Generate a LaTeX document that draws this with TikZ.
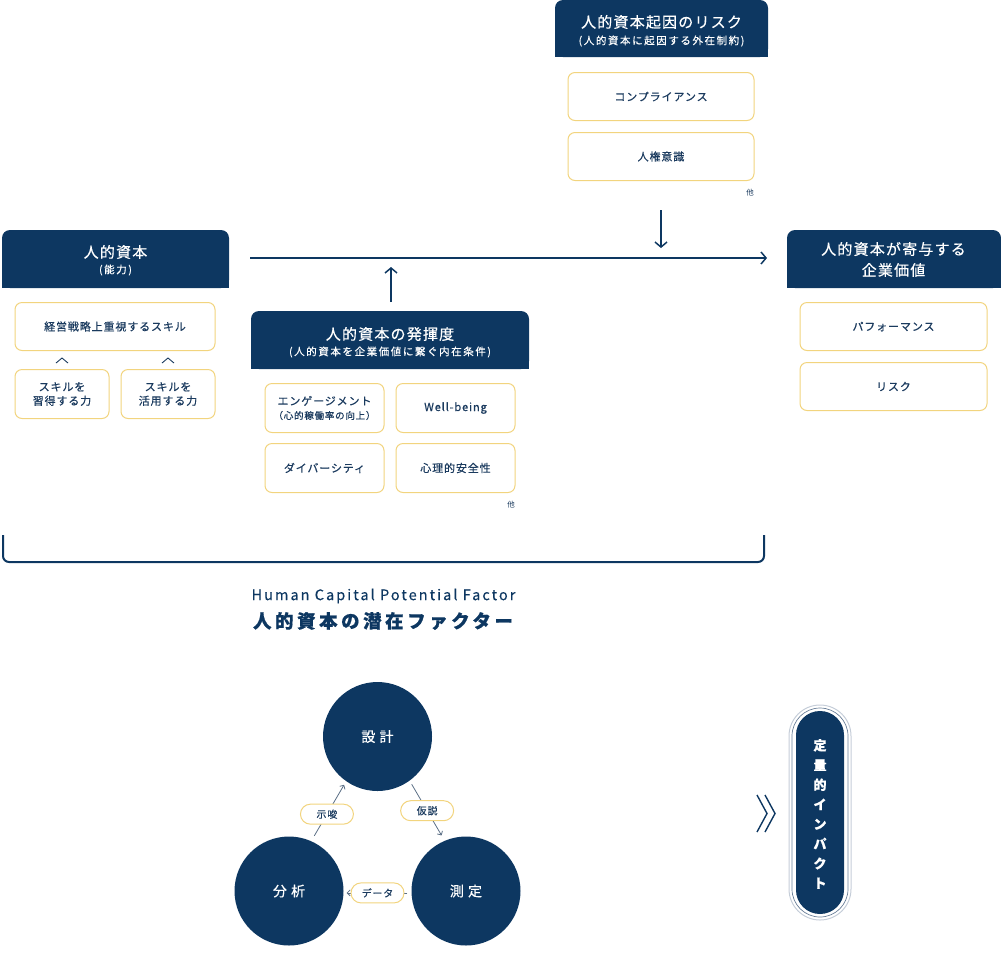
\documentclass[tikz,border=0pt]{standalone}
\usepackage{fontspec}
\setmainfont{Noto Sans CJK JP}
\newfontfamily\jpA[LetterSpace=8,FakeBold=0.45]{Noto Sans CJK JP}
\newfontfamily\jpB[LetterSpace=15,FakeBold=0.3]{Noto Sans CJK JP}
\newfontfamily\jpC[LetterSpace=30,FakeBold=0.45]{Noto Sans CJK JP}
\newfontfamily\jpD[LetterSpace=14,FakeBold=0.3]{Noto Sans CJK JP}
\newfontfamily\jpE[LetterSpace=19,FakeBold=0.6]{Noto Sans CJK JP}
\newfontfamily\jpF[FakeBold=0.6]{Noto Sans CJK JP}
\usetikzlibrary{arrows.meta}
\definecolor{navy}{HTML}{0D3761}
\definecolor{ybd}{HTML}{F2D47E}
\definecolor{txt}{HTML}{1A3A5E}
\definecolor{conng}{HTML}{5A6E85}
\definecolor{ring}{HTML}{C5CDD8}
\definecolor{ringb}{HTML}{6A7F98}
\begin{document}
\begin{tikzpicture}[x=1pt,y=-1pt,
  ybox/.style={draw=ybd, line width=1pt, fill=white, rounded corners=7pt, text=txt,
    font=\jpA\fontsize{11}{14}\selectfont, inner sep=0pt, align=center},
  hdrtitle/.style={text=white, font=\jpA\fontsize{15}{21}\selectfont, inner sep=0pt, align=center},
  hdrsub/.style={text=white, font=\jpB\fontsize{10.5}{12}\selectfont, inner sep=0pt},
  other/.style={text=txt, font=\fontsize{7.5}{9}\selectfont, inner sep=0pt},
  bigarrow/.style={draw=navy, line width=1.5pt, -{Straight Barb[length=5pt,width=12pt,line width=1.5pt]}},
  cyc/.style={circle, fill=navy, minimum size=109pt, inner sep=0pt, text=white, font=\jpC\fontsize{14}{16}\selectfont},
  conn/.style={draw=conng, line width=0.8pt, -{Straight Barb[length=3pt,width=6pt,line width=0.8pt]}},
  pilllab/.style={draw=ybd, line width=1pt, fill=white, rounded corners=10pt, minimum width=53pt,
    minimum height=20pt, inner sep=0pt, text=txt, font=\jpA\fontsize{10}{12}\selectfont},
]
\useasboundingbox (0,0) rectangle (1001,962);

% ---------- header shapes ----------
\fill[navy, rounded corners=8pt] (555,0) rectangle (768,57);
\fill[navy] (555,30) rectangle (768,57);
\fill[navy, rounded corners=8pt] (2,230) rectangle (229,288);
\fill[navy] (2,260) rectangle (229,288);
\fill[navy, rounded corners=8pt] (251,311) rectangle (529,369);
\fill[navy] (251,340) rectangle (529,369);
\fill[navy, rounded corners=8pt] (787,230) rectangle (1001,288);
\fill[navy] (787,260) rectangle (1001,288);

% ---------- risk ----------
\node[hdrtitle] (riskT) at (661.5,22) {人的資本起因のリスク};
\node[hdrsub] (riskS) at (661.5,41) {(人的資本に起因する外在制約)};
\node[ybox, minimum width=186pt, minimum height=48pt] (comp) at (661,96.5) {コンプライアンス};
\node[ybox, minimum width=186pt, minimum height=48pt] (jinken) at (661,156.5) {人権意識};
\node[other] (riskO) at (750,193) {他};

% ---------- left ----------
\node[hdrtitle] (capT) at (115.5,252) {人的資本};
\node[hdrsub] (capS) at (115.5,270) {(能力)};
\node[ybox, minimum width=200pt, minimum height=48pt] (skill) at (115,326.5) {経営戦略上重視するスキル};
\node[ybox, minimum width=94pt, minimum height=49pt] (shu) at (62,394) {スキルを\\習得する力};
\node[ybox, minimum width=94pt, minimum height=49pt] (kat) at (168,394) {スキルを\\活用する力};
\draw[txt, line width=0.9pt] (56,363) -- (62,358) -- (68,363);
\draw[txt, line width=0.9pt] (162,363) -- (168,358) -- (174,363);

% ---------- middle ----------
\node[hdrtitle] (midT) at (390,334) {人的資本の発揮度};
\node[hdrsub] (midS) at (390,352) {(人的資本を企業価値に繋ぐ内在条件)};
\node[ybox, minimum width=119pt, minimum height=49pt] (eng) at (324.5,408)
  {エンゲージメント\\{\fontsize{9.5}{11}\selectfont （心的稼働率の向上）}};
\node[ybox, minimum width=119pt, minimum height=49pt] (well) at (455.5,408) {Well-being};
\node[ybox, minimum width=119pt, minimum height=49pt] (div) at (324.5,468) {ダイバーシティ};
\node[ybox, minimum width=119pt, minimum height=49pt] (psy) at (455.5,468) {心理的安全性};
\node[other] (midO) at (511,505) {他};

% ---------- right ----------
\node[hdrtitle] (valT) at (893.5,259.5) {人的資本が寄与する\\企業価値};
\node[ybox, minimum width=187pt, minimum height=48pt] (perf) at (893.5,326.5) {パフォーマンス};
\node[ybox, minimum width=187pt, minimum height=48pt] (risk) at (893.5,386.5) {リスク};

% ---------- arrows ----------
\coordinate (hstart) at (250,258);
\coordinate (hend) at (767,258);
\coordinate (dtop) at (661,210);
\coordinate (dbot) at (661,248);
\coordinate (ubot) at (391,302);
\coordinate (utop) at (391,267);
\draw[bigarrow] (hstart) -- (hend);
\draw[bigarrow] (dtop) -- (dbot);
\draw[bigarrow] (ubot) -- (utop);

% ---------- bracket ----------
\draw[navy, line width=2pt, rounded corners=6pt] (3,535) -- (3,562) -- (764,562) -- (764,535);

% ---------- title ----------
\node[text=navy, font=\jpD\fontsize{14.5}{16}\selectfont, inner sep=0pt] (ttlE) at (383.5,596) {Human Capital Potential Factor};
\node[text=navy, font=\jpE\bfseries\fontsize{18.5}{20}\selectfont, inner sep=0pt] (ttlJ) at (383,621) {人的資本の潜在ファクター};

% ---------- cycle ----------
\node[cyc] (sekkei) at (377.5,736.5) {設計};
\node[cyc] (bunseki) at (289,891) {分析};
\node[cyc] (sokutei) at (466,891) {測定};
\draw[conn, shorten <=6pt, shorten >=4pt] (bunseki.66) -- (sekkei.235) node[pilllab, pos=0.45] (shisa) {示唆};
\draw[conn, shorten <=4pt, shorten >=6pt] (sekkei.306) -- (sokutei.113) node[pilllab, pos=0.5] (kasetsu) {仮説};
\draw[conn, shorten <=4pt, shorten >=3pt] (sokutei.182) -- (bunseki.358) node[pilllab, pos=0.5] (data) {データ};

% ---------- chevrons ----------
\draw[navy, line width=1.4pt] (757,795) -- (767,813.5) -- (757,832);
\draw[navy, line width=1.4pt] (765,795) -- (775,813.5) -- (765,832);

% ---------- impact pill ----------
\draw[ring, line width=1pt, rounded corners=31pt] (789,705) rectangle (851,920);
\draw[ringb, line width=0.7pt, rounded corners=28pt] (792,708) rectangle (848,917);
\fill[navy, rounded corners=24pt] (796,711) rectangle (844,914);
\node[text=white, font=\jpF\bfseries\fontsize{13}{19.7}\selectfont, align=center, inner sep=0pt] (impact) at (820,814)
  {定\\量\\的\\イ\\ン\\パ\\ク\\ト};
\end{tikzpicture}
\end{document}
